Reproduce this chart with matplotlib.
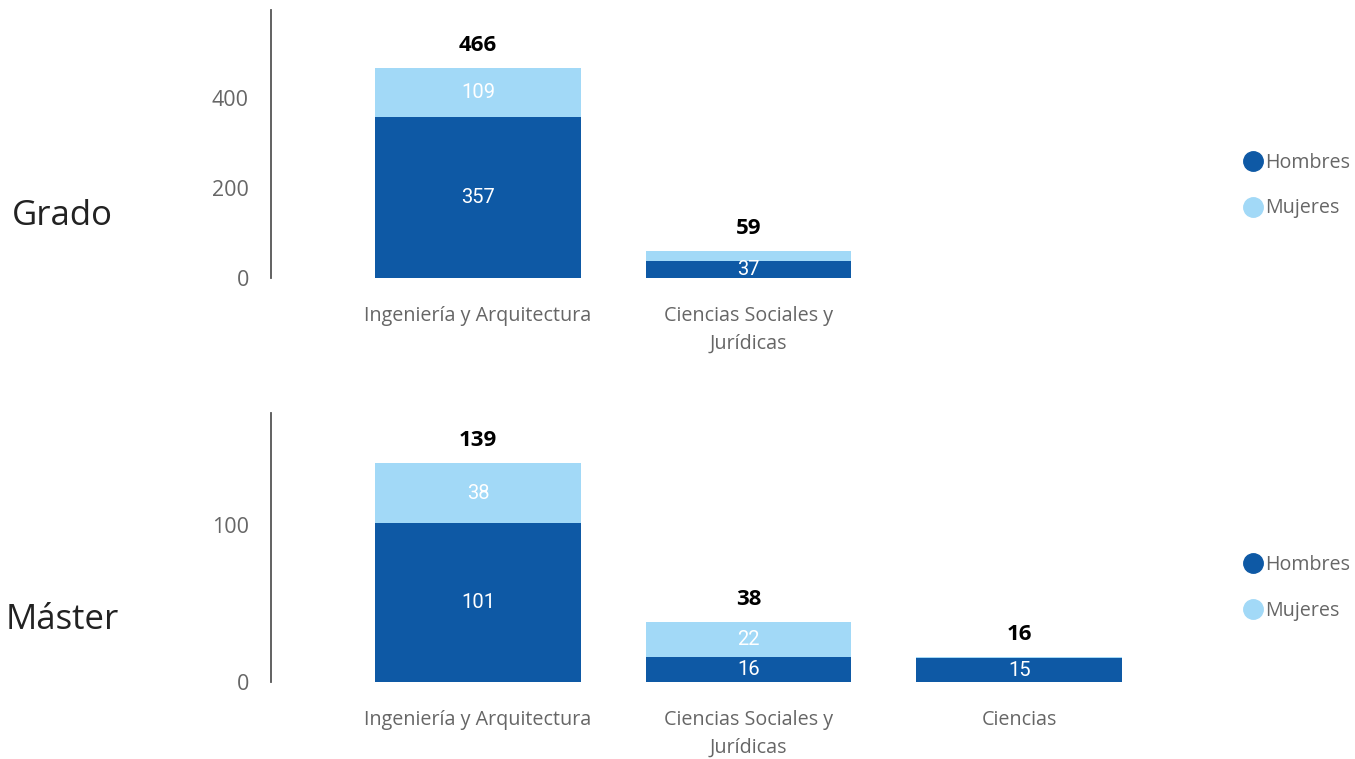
from matplotlib import pyplot as plt
from matplotlib.lines import Line2D

# data
categorias = ["Ingeniería y Arquitectura", "Ciencias Sociales y\nJurídicas", "Ciencias"]
grado_hombres = [357, 37]
grado_mujeres = [109, 22]
master_hombres = [101, 16, 15]
master_mujeres = [38, 22, 1]

c_h = "#0E59A5"
c_m = "#A2D9F7"
gris = "#666666"

plt.rcParams['font.family'] = ['Open Sans', 'DejaVu Sans']

fig = plt.figure(figsize=(13.55, 7.59), dpi=100)

def panel(rect, hombres, mujeres, ymax, yticks, titulo, ty, ley_y):
    ax = fig.add_axes(rect)
    n = len(hombres)
    xs = list(range(n))
    ax.bar(xs, hombres, width=0.76, color=c_h)
    ax.bar(xs, mujeres, width=0.76, bottom=hombres, color=c_m)
    for x, h, m in zip(xs, hombres, mujeres):
        ax.text(x, h / 2, str(h), ha="center", va="center", color="white",
                fontsize=14.5, family="Roboto")
        if m / ymax > 0.08:
            ax.text(x, h + m / 2, str(m), ha="center", va="center", color="white",
                    fontsize=14.5, family="Roboto")
        ax.text(x, h + m + ymax * 0.045, str(h + m), ha="center", va="bottom",
                fontsize=16, fontweight="bold", color="black")
    ax.set_xlim(-0.765, 2.5)
    ax.set_ylim(0, ymax)
    ax.set_yticks(yticks)
    ax.set_xticks(xs)
    ax.set_xticklabels(categorias[:n], color=gris, fontsize=14.2, linespacing=1.5)
    ax.tick_params(axis="y", length=0, labelsize=15.5, labelcolor=gris, pad=16)
    ax.tick_params(axis="x", length=0, pad=20)
    for s in ["top", "right", "bottom"]:
        ax.spines[s].set_visible(False)
    ax.spines["left"].set_color("#555555")
    ax.spines["left"].set_linewidth(1.3)
    fig.text(62 / 1355, ty, titulo, ha="center", va="center", fontsize=25, color="#222222")
    handles = [Line2D([], [], marker="o", linestyle="", markersize=14, color=c_h),
               Line2D([], [], marker="o", linestyle="", markersize=14, color=c_m)]
    leg = ax.legend(handles, ["Hombres", "Mujeres"], loc="center left",
                    bbox_to_anchor=(1.0775, ley_y), frameon=False, fontsize=14.2,
                    handletextpad=0.05, labelspacing=1.3, handlelength=1.2)
    for t in leg.get_texts():
        t.set_color(gris)
    return ax

panel([0.2, 0.6337, 0.652, 0.353], grado_hombres, grado_mujeres, 595,
      [0, 200, 400], "Grado", 1 - 216 / 759, 0.345)
panel([0.2, 0.1014, 0.652, 0.3545], master_hombres, master_mujeres, 171,
      [0, 100], "Máster", 1 - 620 / 759, 0.35)

plt.savefig("out.png", dpi=100)
